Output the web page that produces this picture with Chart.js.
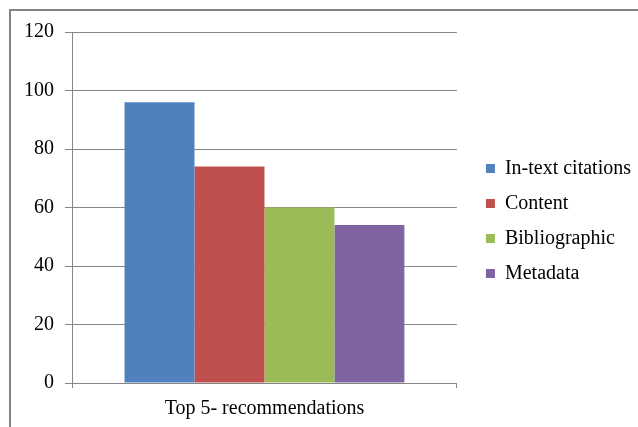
<!DOCTYPE html>
<html>
<head>
<meta charset="utf-8">
<script src="https://cdn.jsdelivr.net/npm/chart.js@4"></script>
<style>
    html, body { margin: 0; padding: 0; background: #fff; overflow: hidden; }
    #frame {
        position: absolute; left: 9px; top: 9px;
        width: 660px; height: 430px;
        border: 2px solid #858585;
    }
</style>
</head>
<body>
<div id="frame"><canvas id="chart"></canvas></div>
<script>
// ----- Data
const categories = ["Top 5- recommendations"];
const seriesNames = ["In-text citations", "Content", "Bibliographic", "Metadata"];
const inText = [96];
const content = [74];
const bibliographic = [60];
const metadata = [54];
const yTicks = [0, 20, 40, 60, 80, 100, 120];

const colors = ['#4F81BD', '#C0504D', '#9BBB59', '#8064A2']; // office palette
const gridColor = '#868686';

Chart.defaults.font.family = "'Liberation Serif', 'Times New Roman', serif";
Chart.defaults.font.size = 20;
Chart.defaults.color = '#000';

const values = [inText, content, bibliographic, metadata];

new Chart(document.getElementById('chart'), {
    type: 'bar',
    data: {
        labels: categories,
        datasets: seriesNames.map((name, i) => ({
            label: name,
            data: values[i],
            backgroundColor: colors[i],
            borderWidth: 0,
            barPercentage: 1,
            categoryPercentage: 0.727
        }))
    },
    options: {
        responsive: true,
        maintainAspectRatio: false,
        animation: false,
        layout: { padding: { left: 2, top: 1, right: 30, bottom: 11 } },
        plugins: {
            tooltip: { enabled: false },
            legend: {
                position: 'right',
                maxWidth: 240,
                labels: { boxWidth: 9, boxHeight: 9, padding: 15, color: '#000' }
            }
        },
        scales: {
            x: {
                grid: { drawOnChartArea: false, drawTicks: true, tickLength: 5, color: gridColor },
                border: { color: gridColor },
                ticks: { padding: 0, font: { size: 20, lineHeight: 2.1 } }
            },
            y: {
                min: yTicks[0],
                max: yTicks[yTicks.length - 1],
                afterBuildTicks: s => { s.ticks = yTicks.map(v => ({ value: v })); },
                grid: { color: gridColor, tickLength: 7 },
                border: { color: gridColor },
                ticks: { padding: 11, font: { size: 20, lineHeight: 1 } }
            },
            // empty spacer between plot and legend
            gap: {
                type: 'linear',
                position: 'right',
                grid: { display: false },
                border: { display: false },
                ticks: { display: false },
                afterFit: s => { s.width = 14; }
            }
        }
    }
});
</script>
</body>
</html>
